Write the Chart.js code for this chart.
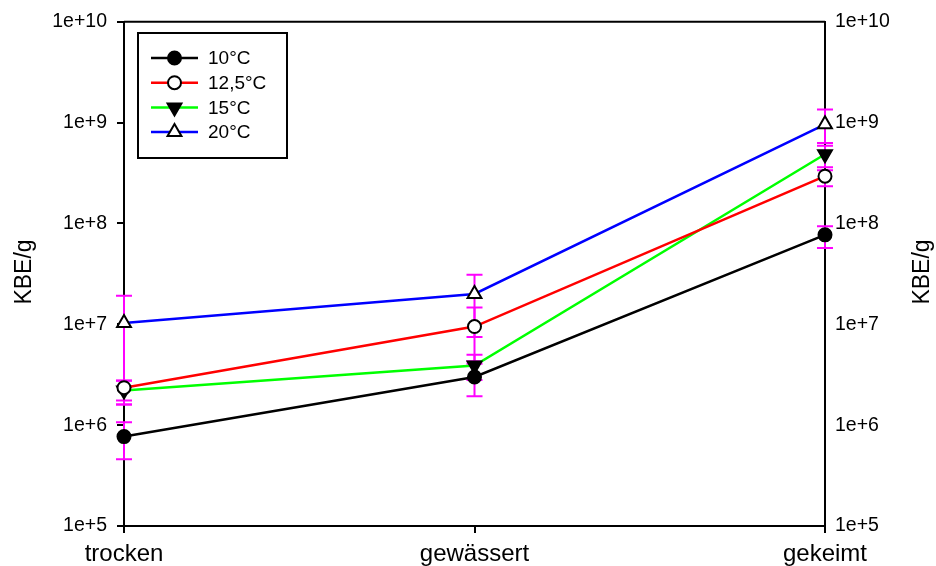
<!DOCTYPE html>
<html>
<head>
<meta charset="utf-8">
<script src="https://cdn.jsdelivr.net/npm/chart.js@4/dist/chart.umd.min.js"></script>
<style>
  body { margin: 0; background: #fff; }
  canvas { display: block; }
</style>
</head>
<body>
<canvas id="chart" width="936" height="566"></canvas>
<script>
const stages = ["trocken", "gewässert", "gekeimt"];
const seriesNames = ["10°C", "12,5°C", "15°C", "20°C"];
const yTicks = [1e5, 1e6, 1e7, 1e8, 1e9, 1e10];

// KBE/g per temperature
const kbe10 = [7.7e5, 3.0e6, 7.7e7];
const kbe125 = [2.35e6, 9.5e6, 2.94e8];
const kbe15 = [2.2e6, 3.9e6, 4.85e8];
const kbe20 = [1.03e7, 2.0e7, 9.6e8];

// error bar ends (upper / lower)
const hi10 = [1.07e6, 4.07e6, 9.4e7];
const lo10 = [4.6e5, 1.93e6, 5.7e7];
const hi125 = [2.77e6, 1.47e7, 3.37e8];
const lo125 = [1.76e6, 4.3e6, 2.34e8];
const hi15 = [2.75e6, 5.0e6, 5.9e8];
const lo15 = [1.6e6, 2.8e6, 3.6e8];
const hi20 = [1.92e7, 3.1e7, 1.35e9];
const lo20 = [1.6e6, 7.5e6, 6.27e8];

const FONT = "Arial, 'Liberation Sans', sans-serif";

function makeSet(label, data, hi, lo, color, style, fill, rot, r) {
  return {
    label, data, hi, lo,
    borderColor: color,
    borderWidth: 2.5,
    pointStyle: style,
    pointRotation: rot,
    pointRadius: r,
    pointHoverRadius: r,
    pointBackgroundColor: fill,
    pointBorderColor: "#000",
    pointBorderWidth: 2,
    tension: 0
  };
}

const errorBars = {
  id: "errorBars",
  beforeDatasetsDraw(chart) {
    const ctx = chart.ctx;
    const y = chart.scales.y;
    ctx.save();
    ctx.strokeStyle = "#ff00ff";
    ctx.lineWidth = 2;
    chart.data.datasets.forEach((ds, i) => {
      chart.getDatasetMeta(i).data.forEach((pt, j) => {
        const yh = y.getPixelForValue(ds.hi[j]);
        const yl = y.getPixelForValue(ds.lo[j]);
        ctx.beginPath();
        ctx.moveTo(pt.x, yh); ctx.lineTo(pt.x, yl);
        ctx.moveTo(pt.x - 8, yh); ctx.lineTo(pt.x + 8, yh);
        ctx.moveTo(pt.x - 8, yl); ctx.lineTo(pt.x + 8, yl);
        ctx.stroke();
      });
    });
    ctx.restore();
  }
};

const frame = {
  id: "frame",
  afterDraw(chart) {
    const ctx = chart.ctx;
    const a = chart.chartArea;
    ctx.save();
    ctx.strokeStyle = "#000";
    ctx.lineWidth = 2;
    ctx.beginPath();
    ctx.moveTo(a.left, a.top); ctx.lineTo(a.right, a.top);
    ctx.stroke();

    // axis titles, both reading bottom to top
    ctx.fillStyle = "#000";
    ctx.font = "23px " + FONT;
    ctx.textAlign = "center";
    ctx.textBaseline = "middle";
    [25, 923].forEach(x => {
      ctx.save();
      ctx.translate(x, 272);
      ctx.rotate(-Math.PI / 2);
      ctx.fillText("KBE/g", 0, 0);
      ctx.restore();
    });

    // legend box
    ctx.lineWidth = 2;
    ctx.strokeRect(138, 33, 149, 125);
    ctx.font = "19px " + FONT;
    ctx.textAlign = "left";
    chart.data.datasets.forEach((ds, i) => {
      const ly = 58 + i * 24.7;
      ctx.strokeStyle = ds.borderColor;
      ctx.lineWidth = 2.5;
      ctx.beginPath();
      ctx.moveTo(151, ly); ctx.lineTo(198, ly);
      ctx.stroke();
      ctx.fillStyle = ds.pointBackgroundColor;
      ctx.strokeStyle = "#000";
      ctx.lineWidth = 2;
      Chart.helpers.drawPoint(ctx, {
        pointStyle: ds.pointStyle, radius: ds.pointRadius, rotation: ds.pointRotation, borderWidth: 2
      }, 174.5, ly);
      ctx.fillStyle = "#000";
      ctx.fillText(ds.label, 208, ly + 1);
    });
    ctx.restore();
  }
};

const logTicks = scale => { scale.ticks = yTicks.map(v => ({ value: v })); };
const logLabel = v => "1e+" + Math.round(Math.log10(v));

new Chart(document.getElementById("chart"), {
  type: "line",
  data: {
    labels: stages,
    datasets: [
      makeSet(seriesNames[0], kbe10, hi10, lo10, "#000000", "circle", "#000000", 0, 6.5),
      makeSet(seriesNames[1], kbe125, hi125, lo125, "#ff0000", "circle", "#ffffff", 0, 6.5),
      makeSet(seriesNames[2], kbe15, hi15, lo15, "#00ff00", "triangle", "#000000", 180, 8),
      makeSet(seriesNames[3], kbe20, hi20, lo20, "#0000ff", "triangle", "#ffffff", 0, 8)
    ]
  },
  options: {
    responsive: false,
    animation: false,
    layout: { padding: { top: 20, left: 0, right: 0, bottom: 0 } },
    plugins: { legend: { display: false }, tooltip: { enabled: false } },
    scales: {
      x: {
        type: "category",
        offset: false,
        grid: { drawOnChartArea: false, color: "#000", tickLength: 7, lineWidth: 2 },
        border: { color: "#000", width: 2 },
        ticks: { color: "#000", font: { family: FONT, size: 24 }, padding: 7, maxRotation: 0 },
        afterFit: s => { s.height = 40; }
      },
      y: {
        type: "logarithmic",
        position: "left",
        min: 1e5,
        max: 1e10,
        afterBuildTicks: logTicks,
        grid: { drawOnChartArea: false, color: "#000", tickLength: 7, lineWidth: 2 },
        border: { color: "#000", width: 2 },
        ticks: { color: "#000", font: { family: FONT, size: 19.5 }, padding: 10, callback: logLabel },
        afterFit: s => { s.width = 124; }
      },
      y2: {
        type: "logarithmic",
        position: "right",
        min: 1e5,
        max: 1e10,
        afterBuildTicks: logTicks,
        grid: { drawOnChartArea: false, drawTicks: false },
        border: { color: "#000", width: 2 },
        ticks: { color: "#000", font: { family: FONT, size: 19.5 }, padding: 10, callback: logLabel },
        afterFit: s => { s.width = 111; }
      }
    }
  },
  plugins: [errorBars, frame]
});
</script>
</body>
</html>
